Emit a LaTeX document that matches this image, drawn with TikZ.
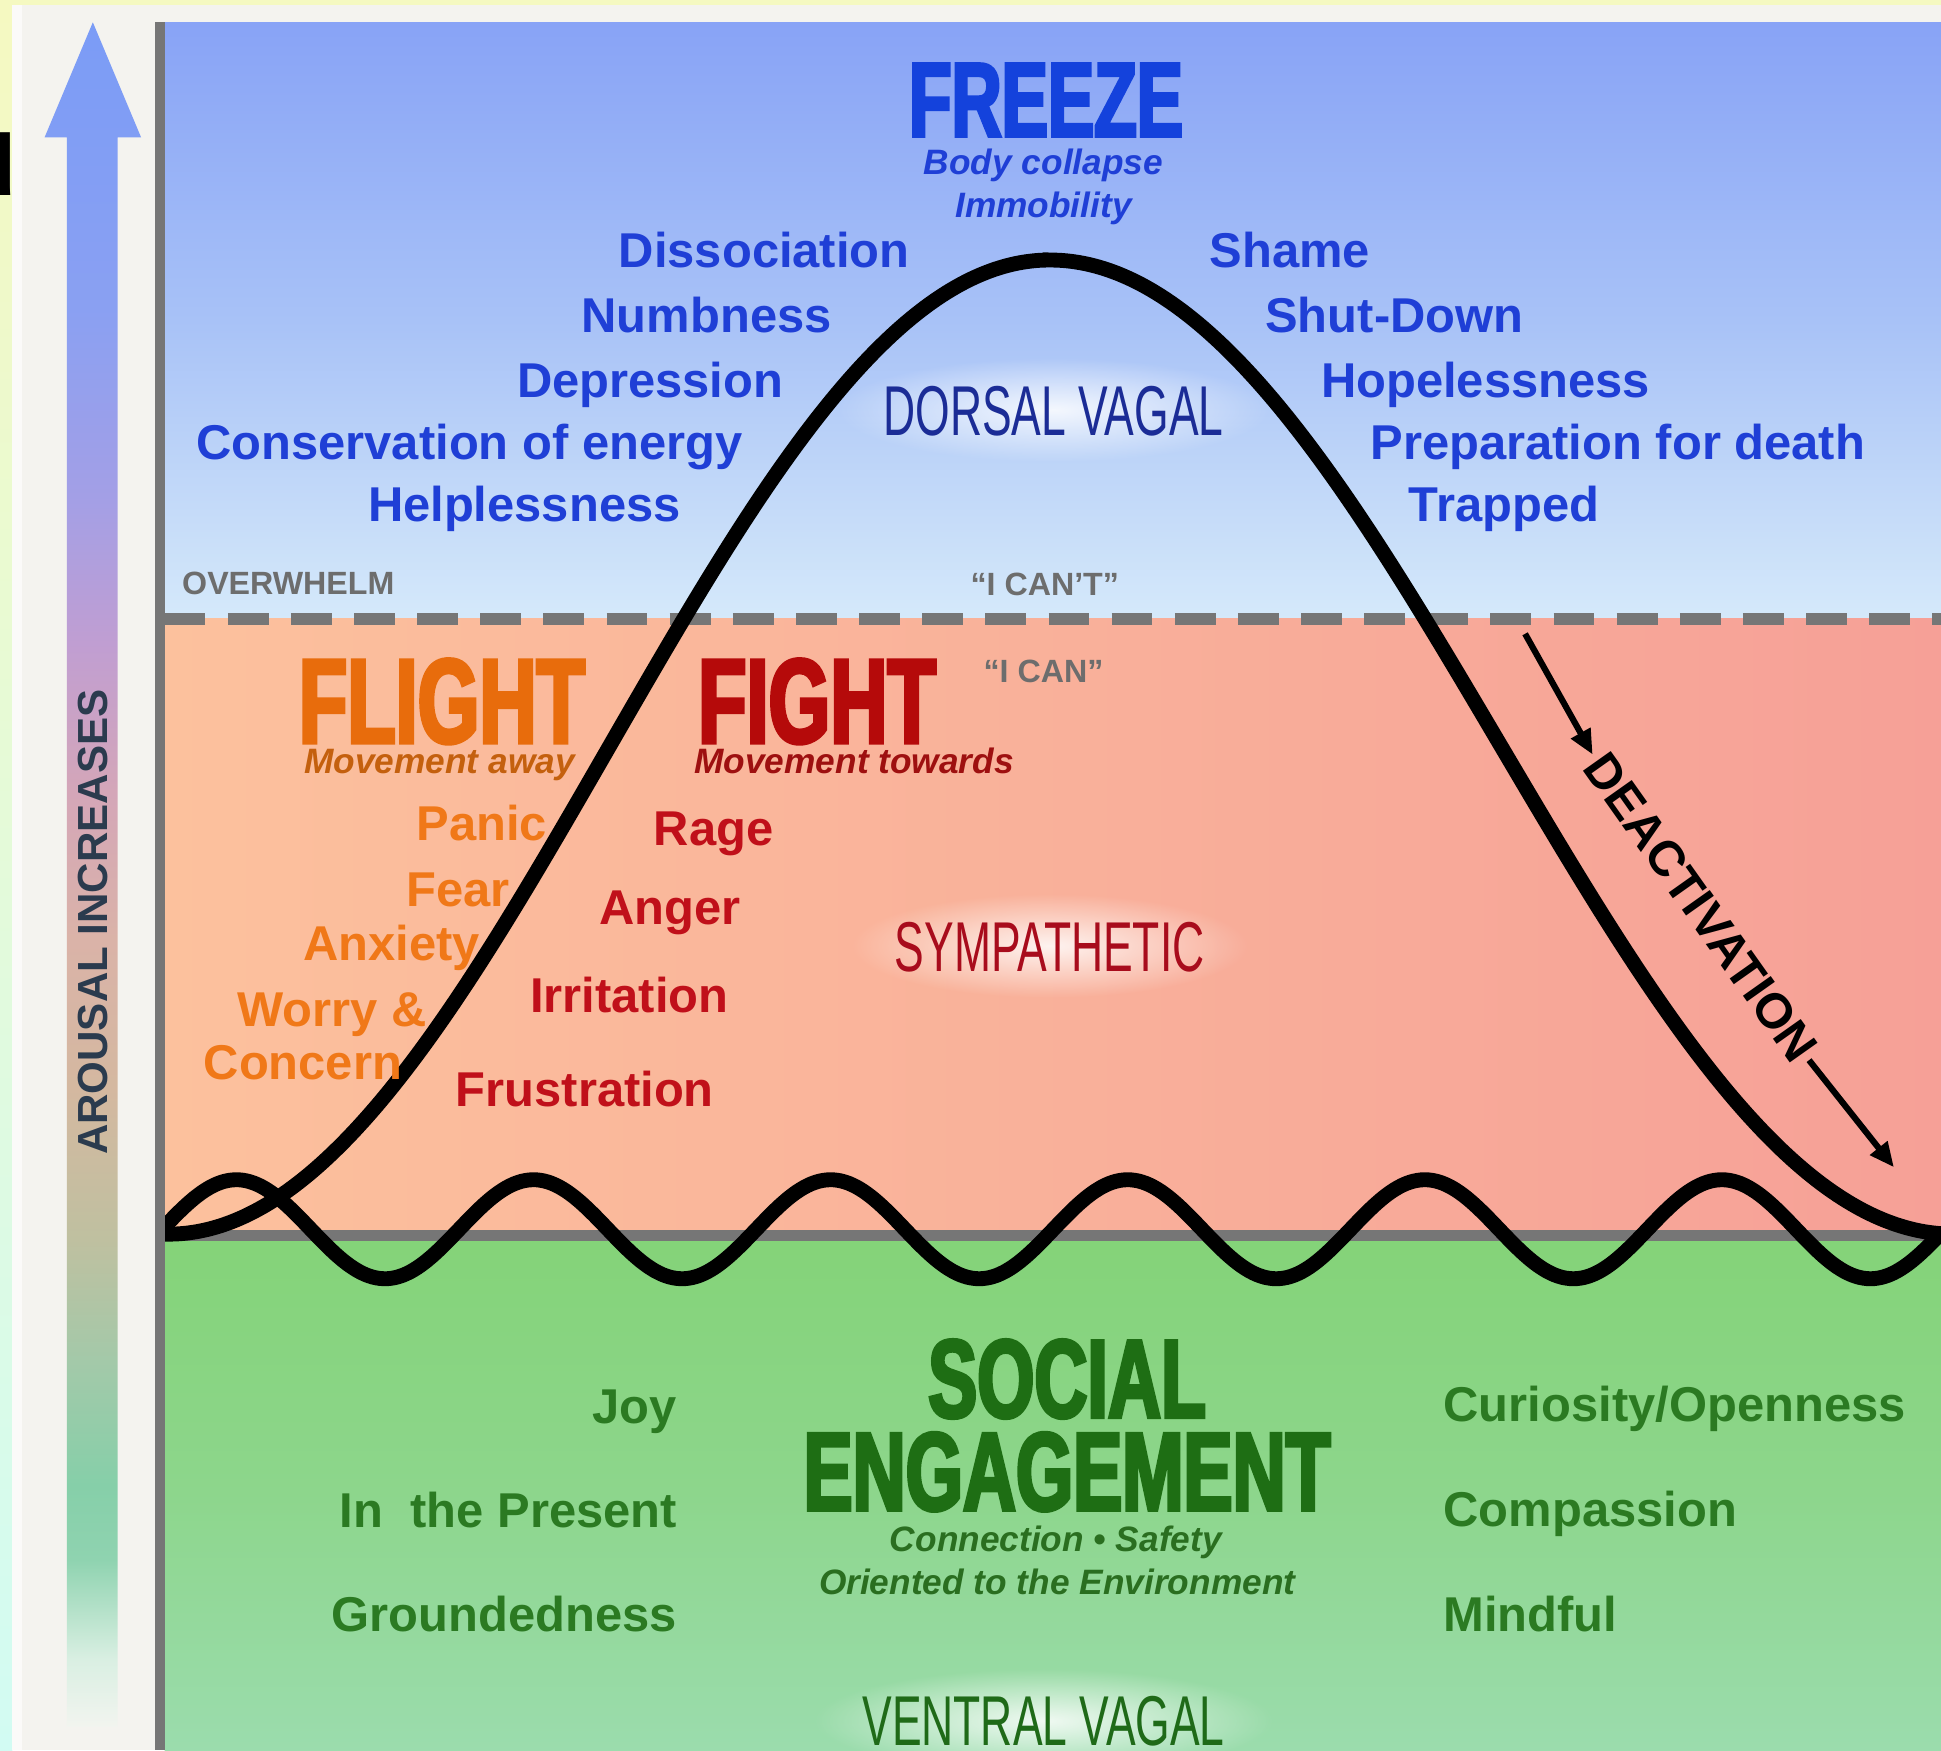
\documentclass[tikz,border=0pt]{standalone}
\usepackage{fontspec}
\setmainfont{Liberation Sans}
\newfontfamily\headfont{Liberation Sans}[FakeStretch=0.66, BoldFeatures={FakeBold=3}]
\newfontfamily\narrowfont{Liberation Sans}[FakeStretch=0.63]
\usetikzlibrary{arrows.meta, fadings}

\definecolor{pageyellow}{HTML}{F5F9C1}
\definecolor{pagecyan}{HTML}{D2FBF3}
\definecolor{panel}{HTML}{F4F3EF}
\definecolor{rule}{HTML}{767676}
\definecolor{skytop}{HTML}{88A3F6}
\definecolor{skymid}{HTML}{A8C2F7}
\definecolor{skylow}{HTML}{D5E9FA}
\definecolor{peach}{HTML}{FCC19D}
\definecolor{salmon}{HTML}{F6A097}
\definecolor{grasstop}{HTML}{84D378}
\definecolor{grassmid}{HTML}{8DD68C}
\definecolor{grasslow}{HTML}{9BDCAD}
\definecolor{bluehead}{HTML}{1442DC}
\definecolor{bluetext}{HTML}{1F3FD6}
\definecolor{navy}{HTML}{1B2C96}
\definecolor{greytext}{HTML}{6D6D6D}
\definecolor{orangehead}{HTML}{E86C0C}
\definecolor{orangenote}{HTML}{C4600E}
\definecolor{orangetext}{HTML}{F07818}
\definecolor{redhead}{HTML}{B50A0A}
\definecolor{rednote}{HTML}{9E1010}
\definecolor{redtext}{HTML}{C0101A}
\definecolor{redsystem}{HTML}{A80C1C}
\definecolor{greenhead}{HTML}{1E6E14}
\definecolor{greennote}{HTML}{2A6E20}
\definecolor{greentext}{HTML}{2B7A22}
\definecolor{greensystem}{HTML}{1F6A18}
\definecolor{slate}{HTML}{2B3B4E}
\definecolor{arA}{HTML}{F2F4EF}
\definecolor{arB}{HTML}{D9EFE2}
\definecolor{arC}{HTML}{8FD3B0}
\definecolor{arD}{HTML}{86CFA9}
\definecolor{arE}{HTML}{A3C9A9}
\definecolor{arF}{HTML}{BFC0A0}
\definecolor{arG}{HTML}{D4B8A0}
\definecolor{arH}{HTML}{DAB3A8}
\definecolor{arI}{HTML}{D4A6B8}
\definecolor{arJ}{HTML}{C09ED2}
\definecolor{arK}{HTML}{A39FE6}
\definecolor{arL}{HTML}{8AA0F2}
\definecolor{arM}{HTML}{7B9CF6}

\pgfdeclareverticalshading{arousal}{100bp}{color(0bp)=(arA); color(25bp)=(arA);
  color(27bp)=(arB); color(29.9bp)=(arC); color(32.1bp)=(arD); color(35.7bp)=(arE);
  color(39.3bp)=(arF); color(43.7bp)=(arG); color(48.1bp)=(arH); color(52.4bp)=(arI);
  color(56.8bp)=(arJ); color(61.1bp)=(arK); color(66.6bp)=(arL); color(75bp)=(arM);
  color(100bp)=(arM)}
\tikzfading[name = halo, inner color = transparent!0, outer color = transparent!100]

\begin{document}
\begin{tikzpicture}[x = 1pt, y = -1pt,
  every node/.style = {inner sep = 0pt},
  heading/.style = {font = {\headfont\bfseries\fontsize{#1}{#1}\selectfont}},
  heading/.default = 90,
  item/.style = {font = {\bfseries\fontsize{39.5}{44}\selectfont}},
  note/.style = {font = {\bfseries\itshape\fontsize{28.5}{32}\selectfont}},
  quote/.style = {font = {\bfseries\fontsize{26}{30}\selectfont}, text = greytext},
  system/.style = {font = {\narrowfont\fontsize{57}{60}\selectfont}},
  glow/.style = {fill = white, fill opacity = 0.85, path fading = halo},
  curve/.style = {line width = 12pt, black},
  pointer/.style = {line width = 5pt, -{Triangle[length = 20pt, width = 17pt]}}]
\useasboundingbox (0,0) rectangle (1568,1414);
\path [fill = pageyellow] (0,0) rectangle (1568,1414);
\path [top color = pageyellow, bottom color = pagecyan] (0,4) rectangle (10,1414);
\path [fill = panel] (10,4) rectangle (1568,1414);
\path [fill = white!60!panel] (10,4) rectangle (18,1414);
\path (-30,158) node (cut) [anchor = base west, font = {\bfseries\fontsize{70}{70}\selectfont}] {d};

\path [shading = arousal] (75,18) -- (114,111) -- (95,111) -- (95,1395) -- (54,1395) -- (54,111) -- (36,111) -- cycle;
\path (75,745) node (arousal) [rotate = 90, text = slate, font = {\bfseries\fontsize{34}{34}\selectfont}] {AROUSAL INCREASES};

\begin{scope}
\clip (133,18) rectangle (1568,1414);
\path [top color = skytop, bottom color = skylow, middle color = skymid] (133,18) rectangle (1568,500);
\path [left color = peach, right color = salmon] (133,500) rectangle (1568,998);
\path [top color = grasstop, bottom color = grasslow, middle color = grassmid] (133,998) rectangle (1568,1414);
\path [draw = rule, line width = 9pt, dash pattern = on 33pt off 18pt] (133,500) -- (1568,500);
\path [draw = rule, line width = 9pt] (133,998) -- (1568,998);
\path [glow] (851,331) ellipse [x radius = 175, y radius = 42];
\path [glow] (848,764) ellipse [x radius = 160, y radius = 42];
\path [glow] (843,1390) ellipse [x radius = 185, y radius = 42];
\path [draw, curve] plot [domain = 133:1568, samples = 240, smooth] (\x, {993 - 40*cos(1.5*(\x - 191))});
\path [draw, curve] plot [domain = 133:848, samples = 80, smooth] (\x, {997 - 393.5*(1 + cos(0.25281*(\x - 848)))})
  -- plot [domain = 848:1568, samples = 80, smooth] (\x, {997 - 393.5*(1 + cos(0.24658*(\x - 848)))});
\end{scope}
\path [fill = rule] (125,18) rectangle (133,1414);

\path (845,110) node (freeze) [anchor = base, heading = 85, text = bluehead] {FREEZE};
\path (843,141) node (collapse) [anchor = base, note, text = bluetext] {Body collapse};
\path (843,176) node (immobility) [anchor = base, note, text = bluetext] {Immobility};
\path (735,216) node (dissociation) [anchor = base east, item, text = bluetext] {Dissociation};
\path (672,269) node (numbness) [anchor = base east, item, text = bluetext] {Numbness};
\path (633,321) node (depression) [anchor = base east, item, text = bluetext] {Depression};
\path (600,371) node (conservation) [anchor = base east, item, text = bluetext] {Conservation of energy};
\path (550,421) node (helplessness) [anchor = base east, item, text = bluetext] {Helplessness};
\path (977,216) node (shame) [anchor = base west, item, text = bluetext] {Shame};
\path (1022,269) node (shutdown) [anchor = base west, item, text = bluetext] {Shut-Down};
\path (1067,321) node (hopelessness) [anchor = base west, item, text = bluetext] {Hopelessness};
\path (1107,371) node (preparation) [anchor = base west, item, text = bluetext] {Preparation for death};
\path (1138,421) node (trapped) [anchor = base west, item, text = bluetext] {Trapped};
\path (851,352) node (dorsal) [anchor = base, system, text = navy] {DORSAL VAGAL};

\path (147,480) node (overwhelm) [anchor = base west, quote] {OVERWHELM};
\path (844,481) node (icant) [anchor = base, quote] {“I CAN’T”};
\path (843,551) node (ican) [anchor = base, quote] {“I CAN”};

\path (357,600) node (flight) [anchor = base, heading = 97, text = orangehead] {FLIGHT};
\path (355,625) node (away) [anchor = base, note, text = orangenote] {Movement away};
\path (660,600) node (fight) [anchor = base, heading = 97, text = redhead] {FIGHT};
\path (690,625) node (towards) [anchor = base, note, text = rednote] {Movement towards};
\path (442,679) node (panic) [anchor = base east, item, text = orangetext] {Panic};
\path (412,732) node (fear) [anchor = base east, item, text = orangetext] {Fear};
\path (388,776) node (anxiety) [anchor = base east, item, text = orangetext] {Anxiety};
\path (345,829) node (worry) [anchor = base east, item, text = orangetext] {Worry \&};
\path (325,872) node (concern) [anchor = base east, item, text = orangetext] {Concern};
\path (528,683) node (rage) [anchor = base west, item, text = redtext] {Rage};
\path (484,747) node (anger) [anchor = base west, item, text = redtext] {Anger};
\path (428,818) node (irritation) [anchor = base west, item, text = redtext] {Irritation};
\path (368,894) node (frustration) [anchor = base west, item, text = redtext] {Frustration};
\path (848,785) node (sympathetic) [anchor = base, system, text = redsystem] {SYMPATHETIC};

\path (1374,733) node (deact) [rotate = -54.7, inner sep = 4pt, font = {\bfseries\fontsize{40}{40}\selectfont}] {DEACTIVATION};
\coordinate (deactin) at (1232,512);
\coordinate (deactout) at (1530,943);
\path [draw, pointer] (deactin) -- (deact.west);
\path [draw, pointer] (deact.east) -- (deactout);

\path (862,1145) node (social) [anchor = base, heading, text = greenhead] {SOCIAL};
\path (862,1220) node (engagement) [anchor = base, heading, text = greenhead] {ENGAGEMENT};
\path (853,1253) node (connection) [anchor = base, note, text = greennote] {Connection • Safety};
\path (854,1288) node (oriented) [anchor = base, note, text = greennote] {Oriented to the Environment};
\path (843,1410) node (ventral) [anchor = base, system, text = greensystem] {VENTRAL VAGAL};
\path (547,1150) node (joy) [anchor = base east, item, text = greentext] {Joy};
\path (547,1234) node (present) [anchor = base east, item, text = greentext] {In\ \ the Present};
\path (547,1318) node (grounded) [anchor = base east, item, text = greentext] {Groundedness};
\path (1166,1148) node (curiosity) [anchor = base west, item, text = greentext] {Curiosity/Openness};
\path (1166,1233) node (compassion) [anchor = base west, item, text = greentext] {Compassion};
\path (1166,1318) node (mindful) [anchor = base west, item, text = greentext] {Mindful};
\end{tikzpicture}
\end{document}
